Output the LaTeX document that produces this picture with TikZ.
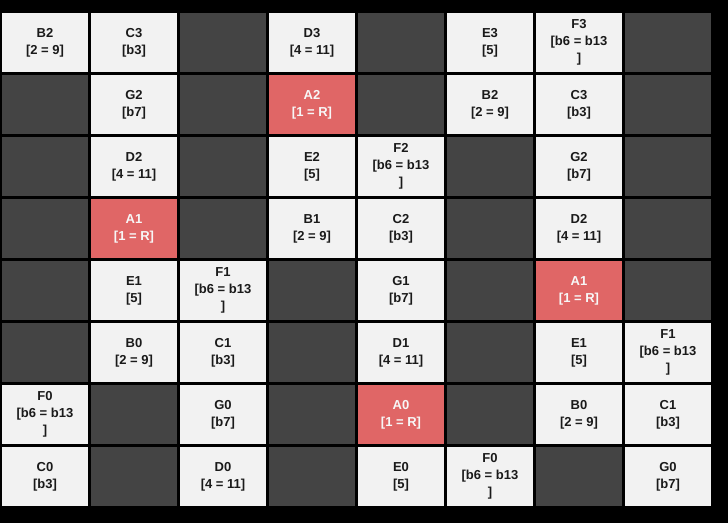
\documentclass[tikz,border=0pt]{standalone}
\usepackage{fontspec}
\setmainfont{Liberation Sans}
\definecolor{cellLight}{HTML}{F2F2F2}
\definecolor{cellDark}{HTML}{444444}
\definecolor{cellRed}{HTML}{E06666}
\definecolor{bgBlack}{HTML}{000000}
\definecolor{txtDark}{HTML}{1A1A1A}
\definecolor{txtLight}{HTML}{F7F7F7}
\tikzset{
  cellbase/.style={rectangle, minimum width=86bp, minimum height=59bp, inner sep=0pt,
    align=center, font=\bfseries\fontsize{13bp}{17bp}\selectfont},
  lite/.style={cellbase, fill=cellLight, text=txtDark},
  darkc/.style={cellbase, fill=cellDark},
  redc/.style={cellbase, fill=cellRed, text=txtLight},
}
\begin{document}
\begin{tikzpicture}[x=1bp,y=-1bp]
\fill[bgBlack] (0,0) rectangle (728,523);
\useasboundingbox (0,0) rectangle (728,523);
% row 0 (y=42.5)
\node[lite]  (r0c0) at (45,42.5)  {B2\\{[2 = 9]}};
\node[lite]  (r0c1) at (134,42.5) {C3\\{[b3]}};
\node[darkc] (r0c2) at (223,42.5) {};
\node[lite]  (r0c3) at (312,42.5) {D3\\{[4 = 11]}};
\node[darkc] (r0c4) at (401,42.5) {};
\node[lite]  (r0c5) at (490,42.5) {E3\\{[5]}};
\node[lite]  (r0c6) at (579,42.5) {F3\\{[b6 = b13}\\{]}};
\node[darkc] (r0c7) at (668,42.5) {};
% row 1 (y=104.5)
\node[darkc] (r1c0) at (45,104.5)  {};
\node[lite]  (r1c1) at (134,104.5) {G2\\{[b7]}};
\node[darkc] (r1c2) at (223,104.5) {};
\node[redc]  (r1c3) at (312,104.5) {A2\\{[1 = R]}};
\node[darkc] (r1c4) at (401,104.5) {};
\node[lite]  (r1c5) at (490,104.5) {B2\\{[2 = 9]}};
\node[lite]  (r1c6) at (579,104.5) {C3\\{[b3]}};
\node[darkc] (r1c7) at (668,104.5) {};
% row 2 (y=166.5)
\node[darkc] (r2c0) at (45,166.5)  {};
\node[lite]  (r2c1) at (134,166.5) {D2\\{[4 = 11]}};
\node[darkc] (r2c2) at (223,166.5) {};
\node[lite]  (r2c3) at (312,166.5) {E2\\{[5]}};
\node[lite]  (r2c4) at (401,166.5) {F2\\{[b6 = b13}\\{]}};
\node[darkc] (r2c5) at (490,166.5) {};
\node[lite]  (r2c6) at (579,166.5) {G2\\{[b7]}};
\node[darkc] (r2c7) at (668,166.5) {};
% row 3 (y=228.5)
\node[darkc] (r3c0) at (45,228.5)  {};
\node[redc]  (r3c1) at (134,228.5) {A1\\{[1 = R]}};
\node[darkc] (r3c2) at (223,228.5) {};
\node[lite]  (r3c3) at (312,228.5) {B1\\{[2 = 9]}};
\node[lite]  (r3c4) at (401,228.5) {C2\\{[b3]}};
\node[darkc] (r3c5) at (490,228.5) {};
\node[lite]  (r3c6) at (579,228.5) {D2\\{[4 = 11]}};
\node[darkc] (r3c7) at (668,228.5) {};
% row 4 (y=290.5)
\node[darkc] (r4c0) at (45,290.5)  {};
\node[lite]  (r4c1) at (134,290.5) {E1\\{[5]}};
\node[lite]  (r4c2) at (223,290.5) {F1\\{[b6 = b13}\\{]}};
\node[darkc] (r4c3) at (312,290.5) {};
\node[lite]  (r4c4) at (401,290.5) {G1\\{[b7]}};
\node[darkc] (r4c5) at (490,290.5) {};
\node[redc]  (r4c6) at (579,290.5) {A1\\{[1 = R]}};
\node[darkc] (r4c7) at (668,290.5) {};
% row 5 (y=352.5)
\node[darkc] (r5c0) at (45,352.5)  {};
\node[lite]  (r5c1) at (134,352.5) {B0\\{[2 = 9]}};
\node[lite]  (r5c2) at (223,352.5) {C1\\{[b3]}};
\node[darkc] (r5c3) at (312,352.5) {};
\node[lite]  (r5c4) at (401,352.5) {D1\\{[4 = 11]}};
\node[darkc] (r5c5) at (490,352.5) {};
\node[lite]  (r5c6) at (579,352.5) {E1\\{[5]}};
\node[lite]  (r5c7) at (668,352.5) {F1\\{[b6 = b13}\\{]}};
% row 6 (y=414.5)
\node[lite]  (r6c0) at (45,414.5)  {F0\\{[b6 = b13}\\{]}};
\node[darkc] (r6c1) at (134,414.5) {};
\node[lite]  (r6c2) at (223,414.5) {G0\\{[b7]}};
\node[darkc] (r6c3) at (312,414.5) {};
\node[redc]  (r6c4) at (401,414.5) {A0\\{[1 = R]}};
\node[darkc] (r6c5) at (490,414.5) {};
\node[lite]  (r6c6) at (579,414.5) {B0\\{[2 = 9]}};
\node[lite]  (r6c7) at (668,414.5) {C1\\{[b3]}};
% row 7 (y=476.5)
\node[lite]  (r7c0) at (45,476.5)  {C0\\{[b3]}};
\node[darkc] (r7c1) at (134,476.5) {};
\node[lite]  (r7c2) at (223,476.5) {D0\\{[4 = 11]}};
\node[darkc] (r7c3) at (312,476.5) {};
\node[lite]  (r7c4) at (401,476.5) {E0\\{[5]}};
\node[lite]  (r7c5) at (490,476.5) {F0\\{[b6 = b13}\\{]}};
\node[darkc] (r7c6) at (579,476.5) {};
\node[lite]  (r7c7) at (668,476.5) {G0\\{[b7]}};
\end{tikzpicture}
\end{document}
